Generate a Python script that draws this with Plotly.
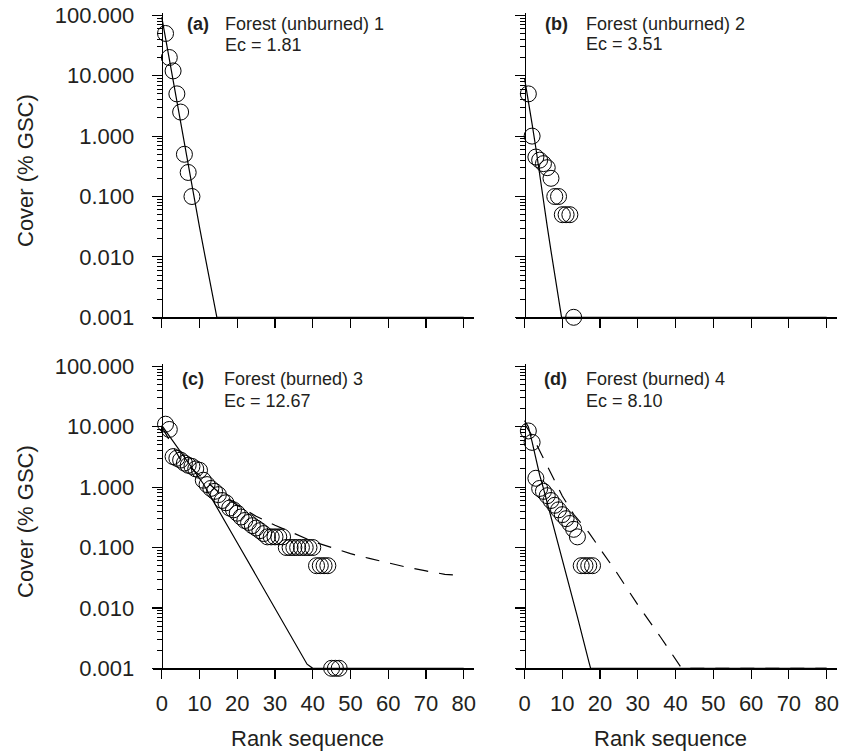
import plotly.graph_objects as go

# ---------------- data ----------------
a_rank = [1, 2, 3, 4, 5, 6, 7, 8]
a_cover = [50, 20, 12, 5, 2.5, 0.5, 0.25, 0.1]
a_fit_rank = [0, 2, 4, 6, 8.4, 10, 11.5, 13, 14.6, 80]
a_fit_cover = [93, 18.3, 3.58, 0.70, 0.1, 0.031, 0.01, 0.0032, 0.001, 0.001]

b_rank = [1, 2, 3, 4, 5, 6, 7, 8, 9, 10, 11, 12, 13]
b_cover = [5, 1.0, 0.45, 0.4, 0.35, 0.3, 0.2, 0.1, 0.1, 0.05, 0.05, 0.05, 0.001]
b_fit_rank = [0, 1, 2, 3, 4, 5, 6, 7, 8, 9, 9.8, 80]
b_fit_cover = [9, 4.0, 1.58, 0.63, 0.22, 0.085, 0.032, 0.0126, 0.005, 0.0021, 0.001, 0.001]

c_rank = list(range(1, 48))
c_cover = [11, 9, 3.2, 3.0, 2.8, 2.5, 2.3, 2.2, 2.0, 1.9,
           1.3, 1.1, 0.95, 0.85, 0.75, 0.6, 0.55, 0.45, 0.42, 0.37,
           0.32, 0.28, 0.26, 0.23, 0.21, 0.19, 0.17, 0.15, 0.15, 0.15,
           0.15, 0.15, 0.1, 0.1, 0.1, 0.1, 0.1, 0.1, 0.1, 0.1,
           0.05, 0.05, 0.05, 0.05, 0.001, 0.001, 0.001]
c_fit_rank = [0, 5, 11, 20, 30, 38.5, 40, 80]
c_fit_cover = [10.5, 3.8, 1.135, 0.12, 0.01, 0.00117, 0.001, 0.001]
c_fit2_rank = [0, 5, 10, 15, 20, 25, 30, 35, 40, 45, 50, 55, 60, 65, 70, 75, 80]
c_fit2_cover = [10, 2.82, 1.58, 0.83, 0.5, 0.33, 0.234, 0.17, 0.126, 0.1,
                0.079, 0.066, 0.055, 0.047, 0.041, 0.036, 0.034]

d_rank = list(range(1, 19))
d_cover = [8.5, 5.5, 1.4, 0.95, 0.85, 0.72, 0.6, 0.5, 0.42, 0.35,
           0.3, 0.25, 0.2, 0.15, 0.05, 0.05, 0.05, 0.05]
d_fit_rank = [0, 1, 2, 3, 4, 5, 8, 11, 14, 17, 17.5, 80]
d_fit_cover = [12.6, 10, 5.6, 2.8, 1.58, 0.95, 0.19, 0.037, 0.0071, 0.0013, 0.001, 0.001]
d_fit2_rank = [0, 2, 4, 7, 10, 13, 17, 20, 24, 30, 36, 41.6, 80]
d_fit2_cover = [11.2, 7.1, 4.0, 1.66, 0.71, 0.355, 0.178, 0.095, 0.042, 0.0112, 0.0033, 0.001, 0.001]

titles = ["Forest (unburned) 1", "Forest (unburned) 2", "Forest (burned) 3", "Forest (burned) 4"]
letters = ["(a)", "(b)", "(c)", "(d)"]
ec_text = ["Ec = 1.81", "Ec = 3.51", "Ec = 12.67", "Ec = 8.10"]

y_tickvals = [0.001, 0.01, 0.1, 1, 10, 100]
y_ticktext = ["0.001", "0.010", "0.100", "1.000", "10.000", "100.000"]
x_tickvals = [0, 10, 20, 30, 40, 50, 60, 70, 80]

# ---------------- layout geometry ----------------
W, H = 853, 754
FONT = "Liberation Sans, Arial, Helvetica, sans-serif"
TXT = "#231f20"

def px(x):
    return x / W

def py(y):
    return 1 - y / H

x_dom = {1: [px(152.7), px(474.3)], 2: [px(515.5), px(837.2)],
         3: [px(152.7), px(474.3)], 4: [px(515.5), px(837.2)]}
y_dom = {1: [py(317.3), py(13.3)], 2: [py(317.3), py(13.3)],
         3: [py(668.3), py(364.3)], 4: [py(668.3), py(364.3)]}
y_pos = {1: px(161.7), 2: px(524.6), 3: px(161.7), 4: px(524.6)}

minor_vals = [m * 10 ** e for e in range(-3, 2) for m in range(2, 10)]

fig = go.Figure()

panels = [
    (a_rank, a_cover, [(a_fit_rank, a_fit_cover, "solid")]),
    (b_rank, b_cover, [(b_fit_rank, b_fit_cover, "solid")]),
    (c_rank, c_cover, [(c_fit_rank, c_fit_cover, "solid"), (c_fit2_rank, c_fit2_cover, "14px,11px")]),
    (d_rank, d_cover, [(d_fit_rank, d_fit_cover, "solid"), (d_fit2_rank, d_fit2_cover, "14px,11px")]),
]

for i, (rk, cv, fits) in enumerate(panels, start=1):
    xa = "x" if i == 1 else f"x{i}"
    ya = "y" if i == 1 else f"y{i}"
    for fr, fc, dash in fits:
        fig.add_trace(go.Scatter(x=fr, y=fc, mode="lines", xaxis=xa, yaxis=ya,
                                 line=dict(color="black", width=1.2, dash=dash),
                                 showlegend=False, hoverinfo="skip"))
    fig.add_trace(go.Scatter(x=rk, y=cv, mode="markers", xaxis=xa, yaxis=ya,
                             marker=dict(symbol="circle-open", size=16, color="black",
                                         line=dict(width=1, color="black")),
                             cliponaxis=False, showlegend=False))

layout = dict(width=W, height=H, margin=dict(l=0, r=0, t=0, b=0, autoexpand=False),
              paper_bgcolor="white", plot_bgcolor="white",
              font=dict(family=FONT, color=TXT, size=22), showlegend=False)

for i in range(1, 5):
    xk = "xaxis" if i == 1 else f"xaxis{i}"
    yk = "yaxis" if i == 1 else f"yaxis{i}"
    ya = "y" if i == 1 else f"y{i}"
    layout[xk] = dict(domain=x_dom[i], anchor=ya, range=[-2.4, 82.8],
                      tickmode="array", tickvals=x_tickvals,
                      showticklabels=(i >= 3), ticks="outside", ticklen=9,
                      tickwidth=1.2, tickcolor="black", showline=True,
                      linecolor="black", linewidth=1.3, showgrid=False,
                      zeroline=False, tickfont=dict(size=22, color=TXT),
                      ticklabelstandoff=6, automargin=False)
    layout[yk] = dict(domain=y_dom[i], anchor="free", position=y_pos[i],
                      type="log", range=[-3, 2.033], tickmode="array",
                      tickvals=y_tickvals, ticktext=y_ticktext,
                      showticklabels=(i in (1, 3)), ticks="outside", ticklen=10,
                      tickwidth=1.2, tickcolor="black", showline=True,
                      linecolor="black", linewidth=1.3, showgrid=False,
                      zeroline=False, tickfont=dict(size=22, color=TXT),
                      ticklabelstandoff=13, automargin=False,
                      minor=dict(ticks="outside", ticklen=5, tickwidth=1,
                                 tickcolor="black", tickmode="array",
                                 tickvals=minor_vals, showgrid=False))

fig.update_layout(**layout)

# panel labels
lab_pos = [
    (185, 222.7, 24, 45),
    (543, 584, 24, 44),
    (180, 221.7, 379, 401),
    (541.7, 584, 379, 401),
]
annots = []
for i, (lx, tx, r1, r2) in enumerate(lab_pos):
    annots.append(dict(x=px(lx), y=py(r1), xref="paper", yref="paper",
                       text=f"<b>{letters[i]}</b>", showarrow=False,
                       xanchor="left", yanchor="middle",
                       font=dict(size=18, family=FONT, color=TXT)))
    annots.append(dict(x=px(tx), y=py(r1), xref="paper", yref="paper",
                       text=titles[i], showarrow=False,
                       xanchor="left", yanchor="middle",
                       font=dict(size=18, family=FONT, color=TXT)))
    annots.append(dict(x=px(tx), y=py(r2), xref="paper", yref="paper",
                       text=ec_text[i], showarrow=False,
                       xanchor="left", yanchor="middle",
                       font=dict(size=18, family=FONT, color=TXT)))

# axis titles
for cx in (307, 670.5):
    annots.append(dict(x=px(cx), y=py(738), xref="paper", yref="paper",
                       text="Rank sequence", showarrow=False,
                       xanchor="center", yanchor="middle",
                       font=dict(size=22, family=FONT, color=TXT)))
for cy in (171, 522):
    annots.append(dict(x=px(25), y=py(cy), xref="paper", yref="paper",
                       text="Cover (% GSC)", showarrow=False, textangle=-90,
                       xanchor="center", yanchor="middle",
                       font=dict(size=22, family=FONT, color=TXT)))

fig.update_layout(annotations=annots, hovermode=False)
fig.write_html(
    "out.html",
    config={"displayModeBar": False, "staticPlot": True},
    post_script="document.body.style.margin='0px';document.body.style.overflow='hidden';",
)
